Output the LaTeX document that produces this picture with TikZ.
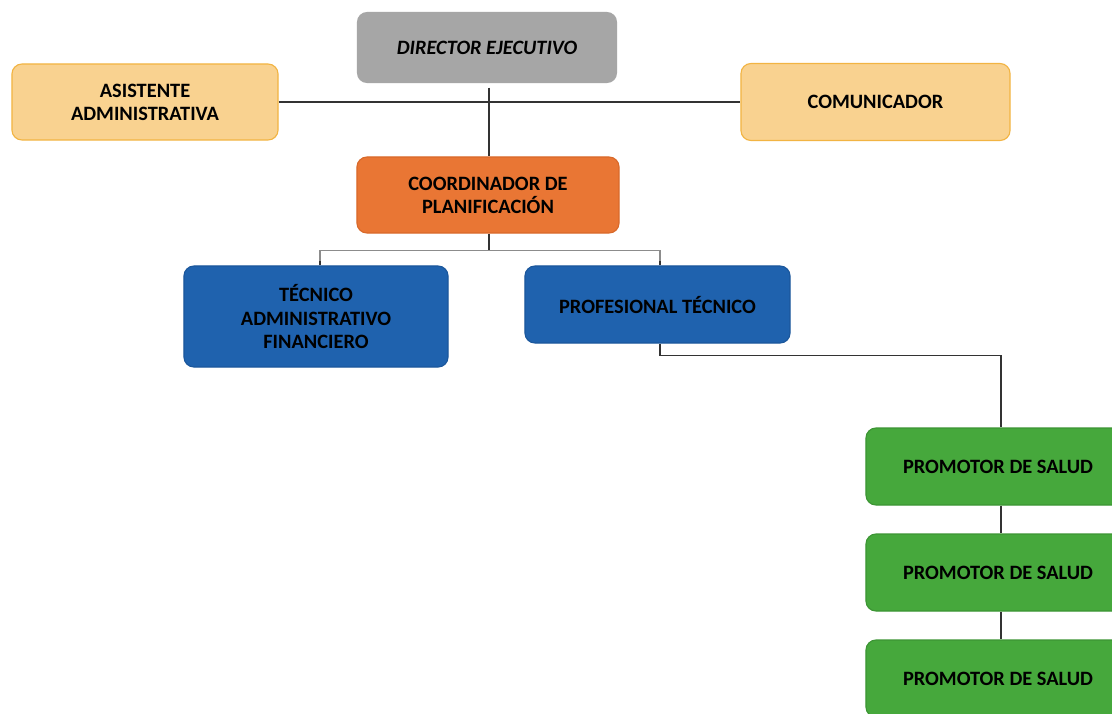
\documentclass[tikz,border=0pt]{standalone}
\usepackage{fontspec}
\setmainfont{Carlito}
\usetikzlibrary{calc}
\definecolor{dirgray}{HTML}{A6A6A6}
\definecolor{asisfill}{HTML}{F9D290}
\definecolor{asisline}{HTML}{F2B443}
\definecolor{coordfill}{HTML}{E97634}
\definecolor{coordline}{HTML}{D9692A}
\definecolor{techfill}{HTML}{1F62AE}
\definecolor{techline}{HTML}{1B579C}
\definecolor{promfill}{HTML}{46A83C}
\definecolor{promline}{HTML}{3C9534}
\tikzstyle{post}=[rounded corners=0.25cm,align=center,inner sep=2pt,font=\fontsize{14.5}{16.5}\selectfont\bfseries,line width=0.8pt]
\tikzstyle{link}=[draw=black!80,line width=1.1pt]
\newcommand{\newpost}[4][]{ % Syntax: [extra options] {name}{x,y in px}{text}
	\node[post,#1] (#2) at (#3) {#4};
}
\begin{document}
\begin{tikzpicture}[x=0.025cm,y=-0.025cm]
	\clip (0,0) rectangle (1112,713);
	\fill[white] (0,0) rectangle (1112,713);
	% top level
	\newpost[fill=dirgray,minimum width=6.5cm,minimum height=1.775cm,font=\fontsize{14.5}{16.5}\selectfont\bfseries\itshape]{dir}{487,47.5}{DIRECTOR EJECUTIVO}
	\newpost[fill=asisfill,draw=asisline,minimum width=6.65cm,minimum height=1.9cm]{asis}{145,102}{ASISTENTE\\ADMINISTRATIVA}
	\newpost[fill=asisfill,draw=asisline,minimum width=6.725cm,minimum height=1.925cm]{comu}{875.5,102}{COMUNICADOR}
	\newpost[fill=coordfill,draw=coordline,minimum width=6.55cm,minimum height=1.9cm]{coord}{488,195}{COORDINADOR DE\\PLANIFICACIÓN}
	% second level
	\newpost[fill=techfill,draw=techline,minimum width=6.6cm,minimum height=2.525cm]{tec}{316,316.5}{TÉCNICO\\ADMINISTRATIVO\\FINANCIERO}
	\newpost[fill=techfill,draw=techline,minimum width=6.625cm,minimum height=1.925cm]{prof}{657.5,304.5}{PROFESIONAL TÉCNICO}
	% promotores, cut by the right border
	\foreach \i/\y in {1/466.5,2/572.5,3/678.5} {
		\newpost[fill=promfill,draw=promline,minimum width=6.6cm,minimum height=1.925cm]{prom\i}{998,\y}{PROMOTOR DE SALUD}
	}
	% connectors
	\draw[link] (asis.east) -- (comu.west);
	\draw[link] ($(dir.south)+(2,4)$) -- ($(coord.north)+(1,0)$);
	\draw[link] ($(coord.south)+(1,0)$) -- ++(0,17) coordinate (split);
	\draw[link,draw=black!45] ($(tec.north)+(4,0)$) |- (split) -| ($(prof.north)+(2.5,0)$);
	\draw[link] ($(tec.north)+(4,0)$) -- ++(0,-4);
	\draw[link] ($(prof.north)+(2.5,0)$) -- ++(0,-4);
	\draw[link] ($(prof.south)+(2.5,0)$) -- ++(0,12) -| ($(prom1.north)+(3,0)$);
	\draw[link] ($(prom1.south)+(3,0)$) -- ($(prom2.north)+(3,0)$);
	\draw[link] ($(prom2.south)+(3,0)$) -- ($(prom3.north)+(3,0)$);
\end{tikzpicture}
\end{document}
